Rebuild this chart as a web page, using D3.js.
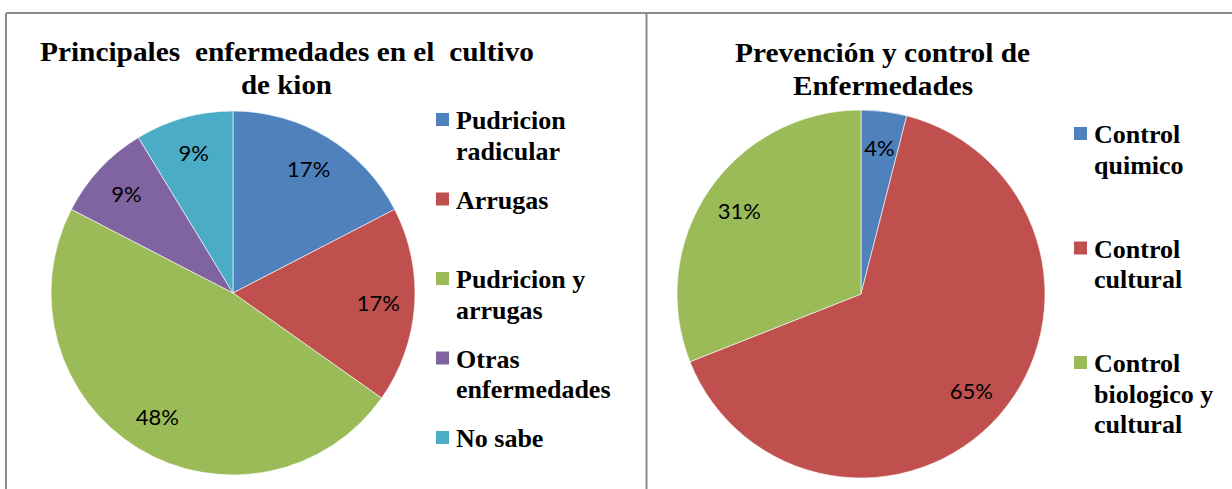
<html>
<head>
<script src="https://d3js.org/d3.v7.min.js"></script>
<style>
  body { margin: 0; background: #fff; }
</style>
</head>
<body>
<div id="chart"></div>
<script>
// left chart data
const leftTitle = ["Principales  enfermedades en el  cultivo", "de kion"];
const leftCategories = ["Pudricion radicular", "Arrugas", "Pudricion y arrugas", "Otras enfermedades", "No sabe"];
const leftLegendLines = [["Pudricion", "radicular"], ["Arrugas"], ["Pudricion y", "arrugas"], ["Otras", "enfermedades"], ["No sabe"]];
const leftValues = [17.4, 17.4, 47.8, 8.7, 8.7];

// right chart data
const rightTitle = ["Prevención y control de", "Enfermedades"];
const rightCategories = ["Control quimico", "Control cultural", "Control biologico y cultural"];
const rightLegendLines = [["Control", "quimico"], ["Control", "cultural"], ["Control", "biologico y", "cultural"]];
const rightValues = [4, 65, 31];

const colors = ["#4F81BD", "#C0504D", "#9BBB59", "#8064A2", "#4BACC6"];

const W = 1232, H = 489;
const svg = d3.select("#chart").append("svg")
  .attr("width", W).attr("height", H);

// frame
const frame = svg.append("g").attr("stroke", "#8c8c8c").attr("stroke-width", 2).attr("fill", "none");
frame.append("line").attr("x1", 6).attr("x2", W).attr("y1", 13).attr("y2", 13);
frame.append("line").attr("x1", 6).attr("x2", 6).attr("y1", 13).attr("y2", H);
frame.append("line").attr("x1", 646.5).attr("x2", 646.5).attr("y1", 13).attr("y2", H);

function drawPie(cfg) {
  const g = svg.append("g");

  // title
  cfg.title.forEach((t, i) => {
    g.append("text")
      .attr("x", cfg.titleX[i])
      .attr("y", cfg.titleY[i])
      .attr("textLength", cfg.titleW[i])
      .attr("lengthAdjust", "spacingAndGlyphs")
      .style("font-family", "'Liberation Serif', 'Times New Roman', serif")
      .style("font-weight", "bold")
      .style("font-size", "27px")
      .style("white-space", "pre")
      .attr("fill", "#000")
      .text(t);
  });

  const total = d3.sum(cfg.values);
  const pie = d3.pie().sort(null).value(d => d);
  const arcs = pie(cfg.values);
  const arc = d3.arc().innerRadius(0).outerRadius(cfg.r);
  const labelArc = d3.arc().innerRadius(cfg.r * 0.8).outerRadius(cfg.r * 0.8);

  const pg = g.append("g").attr("transform", `translate(${cfg.cx},${cfg.cy})`);
  pg.selectAll("path.slice")
    .data(arcs)
    .enter()
    .append("path")
    .attr("class", "slice")
    .attr("d", arc)
    .attr("fill", (d, i) => colors[i])
    .attr("stroke", "#ffffff")
    .attr("stroke-opacity", 0.6)
    .attr("stroke-width", 1);

  pg.selectAll("text.lbl")
    .data(arcs)
    .enter()
    .append("text")
    .attr("class", "lbl")
    .attr("transform", d => `translate(${labelArc.centroid(d)})`)
    .attr("text-anchor", "middle")
    .attr("dy", "0.36em")
    .style("font-family", "Lato, 'Open Sans', sans-serif")
    .style("font-size", "22px")
    .attr("fill", "#000")
    .text(d => Math.round(d.value / total * 100) + "%");

  // legend
  const ly = d3.scaleLinear().domain([0, cfg.categories.length - 1]).range(cfg.legendRange);
  const items = g.selectAll("g.leg")
    .data(cfg.categories)
    .enter()
    .append("g")
    .attr("class", "leg")
    .attr("transform", (d, i) => `translate(${cfg.legendX},${ly(i)})`);

  items.append("rect")
    .attr("x", 0)
    .attr("y", -16)
    .attr("width", 13)
    .attr("height", 13)
    .attr("fill", (d, i) => colors[i]);

  items.each(function(d, i) {
    const t = d3.select(this).append("text")
      .attr("x", 20)
      .attr("y", 0)
      .style("font-family", "'Liberation Serif', 'Times New Roman', serif")
      .style("font-weight", "bold")
      .style("font-size", "26px")
      .attr("fill", "#000");
    cfg.legendLines[i].forEach((line, j) => {
      t.append("tspan").attr("x", 20).attr("y", j * 30.5).text(line);
    });
  });
}

drawPie({
  title: leftTitle,
  titleX: [40, 241], titleY: [61, 94], titleW: [494, 91],
  categories: leftCategories,
  legendLines: leftLegendLines,
  values: leftValues,
  cx: 233, cy: 293, r: 182,
  legendX: 436, legendRange: [129, 447]
});

drawPie({
  title: rightTitle,
  titleX: [735, 793], titleY: [62, 95], titleW: [295, 180],
  categories: rightCategories,
  legendLines: rightLegendLines,
  values: rightValues,
  cx: 861, cy: 294, r: 184,
  legendX: 1074, legendRange: [143, 372]
});
</script>
</body>
</html>
